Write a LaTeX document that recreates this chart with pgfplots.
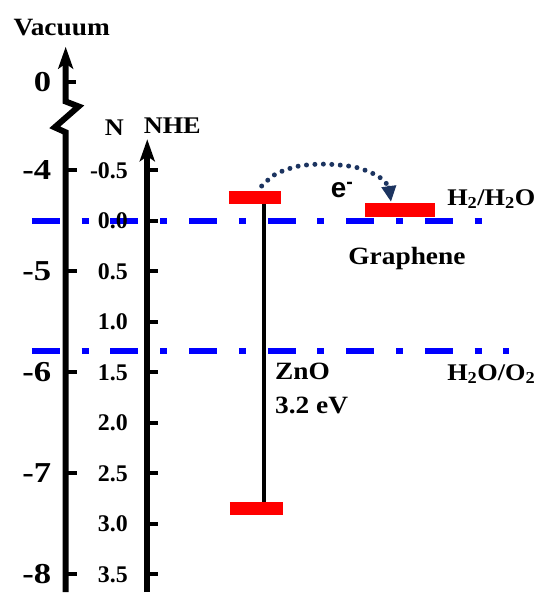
\documentclass[border=0pt]{standalone}
\usepackage{pgfplots}
\pgfplotsset{compat=1.18}
\usepackage{fontspec}
\setmainfont{Liberation Serif}
\newfontfamily\widefont{Liberation Serif}[FakeStretch=1.2]
\newfontfamily\midfont{Liberation Serif}[FakeStretch=1.1]
\newfontfamily\sansb{Liberation Sans}
\usetikzlibrary{arrows.meta}
\definecolor{navy}{RGB}{28,52,96}
\begin{document}
\begin{tikzpicture}
\begin{axis}[
  scale only axis, width=542pt, height=595pt,
  xmin=0, xmax=542, ymin=-2.187, ymax=3.675, y dir=reverse,
  hide axis, clip=false, unbounded coords=jump,
]
% frame for bounding box
\addplot[draw=none] coordinates {(0,-2.187)(542,3.675)};
% blue redox levels
\addplot[blue, line width=6pt, dash pattern=on 28pt off 22pt on 7pt off 22pt] coordinates {(32,0)(490,0)};
\addplot[blue, line width=6pt, dash pattern=on 28pt off 22pt on 7pt off 22pt] coordinates {(32,1.29)(512,1.29)};
% vacuum axis with break
\addplot[black, line width=6pt, line join=miter, -{Stealth[length=22pt,width=15pt,inset=5pt]}]
  coordinates {(66,3.675)(66,-0.877)(55,-0.926)(79,-1.133)(66,-1.182)(66,-1.724)};
\addplot[black, line width=4pt] coordinates {
 (66,-1.379)(76,-1.379) (nan,nan)
 (66,-0.5)(77,-0.5) (nan,nan)
 (66,0.5)(77,0.5) (nan,nan)
 (66,1.5)(77,1.5) (nan,nan)
 (66,2.5)(77,2.5) (nan,nan)
 (66,3.5)(77,3.5)};
% NHE axis
\addplot[black, line width=6pt, -{Stealth[length=22pt,width=15pt,inset=5pt]}]
  coordinates {(148,3.675)(148,-0.808)};
\addplot[black, line width=4pt] coordinates {
 (148,-0.5)(159,-0.5) (nan,nan)
 (148,0)(159,0) (nan,nan)
 (148,0.5)(159,0.5) (nan,nan)
 (148,1)(159,1) (nan,nan)
 (148,1.5)(159,1.5) (nan,nan)
 (148,2)(159,2) (nan,nan)
 (148,2.5)(159,2.5) (nan,nan)
 (148,3)(159,3) (nan,nan)
 (148,3.5)(159,3.5)};
% ZnO band gap
\addplot[black, line width=4pt] coordinates {(265,-0.232)(265,2.852)};
\addplot[red, line width=13pt] coordinates {(230,-0.232)(282,-0.232)};
\addplot[red, line width=13pt] coordinates {(231,2.852)(284,2.852)};
% graphene level
\addplot[red, line width=14pt] coordinates {(367,-0.108)(437,-0.108)};
% electron transfer arc
\addplot[navy, line width=5pt, line cap=round, dash pattern=on 0pt off 8.5pt, smooth,
  -{Triangle[length=16pt,width=14pt]}]
  coordinates {(263,-0.345)(277,-0.463)(300,-0.542)(327,-0.562)(357,-0.532)(378,-0.453)(389,-0.36)(393,-0.187)};
% tick labels
\node[anchor=east, font=\fontsize{29}{32}\widefont\bfseries] at (axis cs:55,-1.379) {0};
\node[anchor=east, font=\fontsize{29}{32}\widefont\bfseries] at (axis cs:55,-0.5) {-4};
\node[anchor=east, font=\fontsize{29}{32}\widefont\bfseries] at (axis cs:55,0.5) {-5};
\node[anchor=east, font=\fontsize{29}{32}\widefont\bfseries] at (axis cs:55,1.5) {-6};
\node[anchor=east, font=\fontsize{29}{32}\widefont\bfseries] at (axis cs:55,2.5) {-7};
\node[anchor=east, font=\fontsize{29}{32}\widefont\bfseries] at (axis cs:55,3.5) {-8};
\node[anchor=east, font=\fontsize{24}{28}\selectfont\bfseries] at (axis cs:132,-0.5) {-0.5};
\node[anchor=east, font=\fontsize{24}{28}\selectfont\bfseries] at (axis cs:132,0) {0.0};
\node[anchor=east, font=\fontsize{24}{28}\selectfont\bfseries] at (axis cs:132,0.5) {0.5};
\node[anchor=east, font=\fontsize{24}{28}\selectfont\bfseries] at (axis cs:132,1) {1.0};
\node[anchor=east, font=\fontsize{24}{28}\selectfont\bfseries] at (axis cs:132,1.5) {1.5};
\node[anchor=east, font=\fontsize{24}{28}\selectfont\bfseries] at (axis cs:132,2) {2.0};
\node[anchor=east, font=\fontsize{24}{28}\selectfont\bfseries] at (axis cs:132,2.5) {2.5};
\node[anchor=east, font=\fontsize{24}{28}\selectfont\bfseries] at (axis cs:132,3) {3.0};
\node[anchor=east, font=\fontsize{24}{28}\selectfont\bfseries] at (axis cs:132,3.5) {3.5};
% titles and labels
\node[font=\fontsize{25}{28}\midfont\bfseries] at (axis cs:62,-1.911) {Vacuum};
\node[font=\fontsize{24}{28}\midfont\bfseries] at (axis cs:115,-0.926) {N};
\node[anchor=west, font=\fontsize{24}{28}\midfont\bfseries] at (axis cs:141,-0.946) {NHE};
\node[anchor=west, font=\fontsize{24}{28}\midfont\bfseries] at (axis cs:446,-0.217) {H\textsubscript{2}/H\textsubscript{2}O};
\node[font=\fontsize{25}{28}\midfont\bfseries] at (axis cs:409,0.374) {Graphene};
\node[anchor=west, font=\fontsize{25}{28}\midfont\bfseries] at (axis cs:273,1.488) {ZnO};
\node[anchor=west, font=\fontsize{25}{28}\midfont\bfseries] at (axis cs:273,1.823) {3.2 eV};
\node[anchor=west, font=\fontsize{24}{28}\midfont\bfseries] at (axis cs:446,1.517) {H\textsubscript{2}O/O\textsubscript{2}};
\node[anchor=base west, font=\fontsize{28}{30}\sansb\bfseries] at (axis cs:329,-0.236) {e\textsuperscript{-}};
\end{axis}
\end{tikzpicture}
\end{document}
